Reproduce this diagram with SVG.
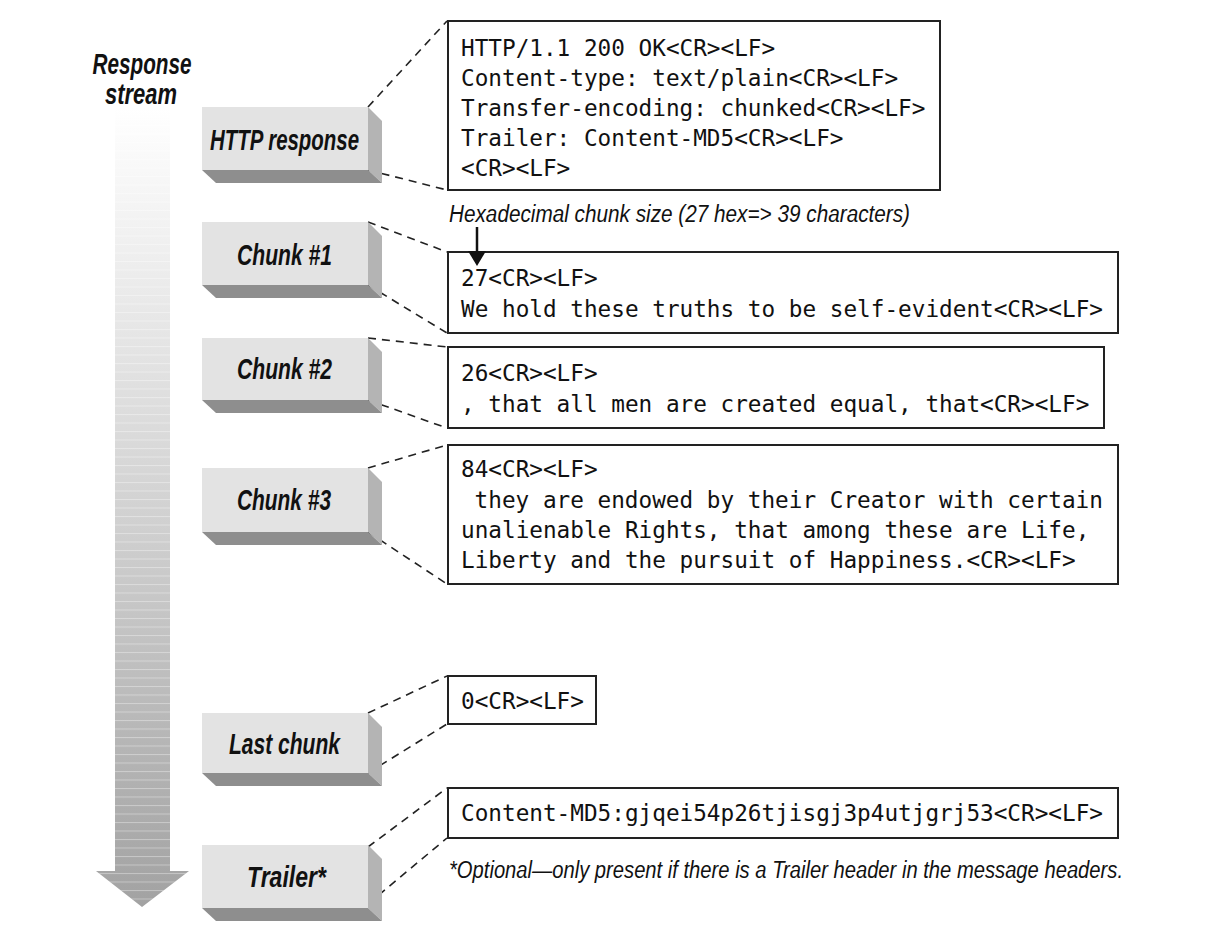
<svg xmlns="http://www.w3.org/2000/svg" width="1220" height="936" viewBox="0 0 1220 936">
<style>
.face{fill:#e3e3e3}
.side{fill:#b4b4b4}
.bot{fill:#8e8e8e}
.lbl{font-family:"Liberation Sans Narrow","Liberation Sans",Arial,sans-serif;font-weight:bold;font-style:italic;font-size:30px;fill:#111}
.tb{fill:#fff;stroke:#222;stroke-width:2}
.mono{font-family:"DejaVu Sans Mono","Liberation Mono",monospace;font-size:22.7px;fill:#111}
.dash{fill:none;stroke:#222;stroke-width:1.6;stroke-dasharray:8 6}
.note{font-family:"Liberation Sans Narrow","Liberation Sans",Arial,sans-serif;font-style:italic;font-size:23px;fill:#111}
</style>
<defs>
<linearGradient id="ag" x1="0" y1="108" x2="0" y2="907" gradientUnits="userSpaceOnUse">
<stop offset="0" stop-color="#ffffff"/>
<stop offset="0.5" stop-color="#d2d2d2"/>
<stop offset="1" stop-color="#a2a2a2"/>
</linearGradient>
<pattern id="bands" x="0" y="108" width="20" height="8.5" patternUnits="userSpaceOnUse">
<rect x="0" y="0" width="20" height="1" fill="#ffffff" opacity="0.35"/>
</pattern>
</defs>

<g id="stream-arrow">
<path d="M115,108 L170,108 L170,871 L189,871 L142,907 L96,871 L115,871 Z" fill="url(#ag)"/>
<path d="M115,108 L170,108 L170,871 L189,871 L142,907 L96,871 L115,871 Z" fill="url(#bands)"/>
<text class="lbl" x="142" y="74" text-anchor="middle" font-size="21" textLength="99" lengthAdjust="spacingAndGlyphs">Response</text>
<text class="lbl" x="141" y="104" text-anchor="middle" font-size="21" textLength="72" lengthAdjust="spacingAndGlyphs">stream</text>
</g>

<g id="connectors">
<path class="dash" d="M368,107 L447,21"/>
<path class="dash" d="M368,170 L447,190"/>
<path class="dash" d="M368,222 L447,252"/>
<path class="dash" d="M368,285 L447,333"/>
<path class="dash" d="M368,338 L447,347"/>
<path class="dash" d="M368,400 L447,428"/>
<path class="dash" d="M368,468 L447,445"/>
<path class="dash" d="M368,532 L447,584"/>
<path class="dash" d="M368,713 L447,676"/>
<path class="dash" d="M368,773 L447,724"/>
<path class="dash" d="M368,847 L447,788"/>
<path class="dash" d="M368,904 L447,838"/>
</g>

<g id="http-response">
<rect class="face" x="202" y="107" width="166" height="63"/>
<polygon class="side" points="368,107 382,121 382,183 368,170"/>
<polygon class="bot" points="202,170 368,170 382,183 216,183"/>
<text class="lbl" x="210" y="150" textLength="149" lengthAdjust="spacingAndGlyphs">HTTP response</text>
</g>
<g id="chunk1">
<rect class="face" x="202" y="222" width="166" height="63"/>
<polygon class="side" points="368,222 382,236 382,298 368,285"/>
<polygon class="bot" points="202,285 368,285 382,298 216,298"/>
<text class="lbl" x="237" y="265" textLength="95" lengthAdjust="spacingAndGlyphs">Chunk #1</text>
</g>
<g id="chunk2">
<rect class="face" x="202" y="338" width="166" height="62"/>
<polygon class="side" points="368,338 382,352 382,413 368,400"/>
<polygon class="bot" points="202,400 368,400 382,413 216,413"/>
<text class="lbl" x="237" y="379" textLength="95" lengthAdjust="spacingAndGlyphs">Chunk #2</text>
</g>
<g id="chunk3">
<rect class="face" x="202" y="468" width="166" height="64"/>
<polygon class="side" points="368,468 382,482 382,545 368,532"/>
<polygon class="bot" points="202,532 368,532 382,545 216,545"/>
<text class="lbl" x="237" y="510" textLength="94" lengthAdjust="spacingAndGlyphs">Chunk #3</text>
</g>
<g id="last-chunk">
<rect class="face" x="202" y="713" width="166" height="60"/>
<polygon class="side" points="368,713 382,727 382,786 368,773"/>
<polygon class="bot" points="202,773 368,773 382,786 216,786"/>
<text class="lbl" x="229" y="754" textLength="111" lengthAdjust="spacingAndGlyphs">Last chunk</text>
</g>
<g id="trailer">
<rect class="face" x="202" y="845" width="166" height="63"/>
<polygon class="side" points="368,845 382,859 382,921 368,908"/>
<polygon class="bot" points="202,908 368,908 382,921 216,921"/>
<text class="lbl" x="247" y="887" textLength="79" lengthAdjust="spacingAndGlyphs">Trailer*</text>
</g>

<g id="headers-box">
<rect class="tb" x="448" y="21" width="492" height="169"/>
<text class="mono" x="461" y="56">HTTP/1.1 200 OK&lt;CR&gt;&lt;LF&gt;</text>
<text class="mono" x="461" y="86">Content-type: text/plain&lt;CR&gt;&lt;LF&gt;</text>
<text class="mono" x="461" y="116">Transfer-encoding: chunked&lt;CR&gt;&lt;LF&gt;</text>
<text class="mono" x="461" y="146">Trailer: Content-MD5&lt;CR&gt;&lt;LF&gt;</text>
<text class="mono" x="461" y="176">&lt;CR&gt;&lt;LF&gt;</text>
</g>

<g id="chunk1-box">
<rect class="tb" x="448" y="252" width="670" height="81"/>
<text class="mono" x="461" y="286">27&lt;CR&gt;&lt;LF&gt;</text>
<text class="mono" x="461" y="317">We hold these truths to be self-evident&lt;CR&gt;&lt;LF&gt;</text>
</g>

<g id="hex-note">
<text class="note" x="449" y="222" textLength="461" lengthAdjust="spacingAndGlyphs">Hexadecimal chunk size (27 hex=&gt; 39 characters)</text>
<path d="M477,227 L477,254" stroke="#111" stroke-width="2.5"/>
<polygon points="468,251 486,251 477,266" fill="#111"/>
</g>

<g id="chunk2-box">
<rect class="tb" x="448" y="347" width="656" height="81"/>
<text class="mono" x="461" y="381">26&lt;CR&gt;&lt;LF&gt;</text>
<text class="mono" x="461" y="412">, that all men are created equal, that&lt;CR&gt;&lt;LF&gt;</text>
</g>

<g id="chunk3-box">
<rect class="tb" x="448" y="445" width="670" height="139"/>
<text class="mono" x="461" y="477">84&lt;CR&gt;&lt;LF&gt;</text>
<text class="mono" x="474.6" y="508">they are endowed by their Creator with certain</text>
<text class="mono" x="461" y="538">unalienable Rights, that among these are Life,</text>
<text class="mono" x="461" y="568">Liberty and the pursuit of Happiness.&lt;CR&gt;&lt;LF&gt;</text>
</g>

<g id="last-chunk-box">
<rect class="tb" x="448" y="676" width="148" height="48"/>
<text class="mono" x="461" y="709">0&lt;CR&gt;&lt;LF&gt;</text>
</g>

<g id="trailer-box">
<rect class="tb" x="448" y="788" width="670" height="50"/>
<text class="mono" x="461" y="821">Content-MD5:gjqei54p26tjisgj3p4utjgrj53&lt;CR&gt;&lt;LF&gt;</text>
</g>

<g id="footnote">
<text class="note" x="449" y="878" textLength="674" lengthAdjust="spacingAndGlyphs">*Optional—only present if there is a Trailer header in the message headers.</text>
</g>
</svg>
